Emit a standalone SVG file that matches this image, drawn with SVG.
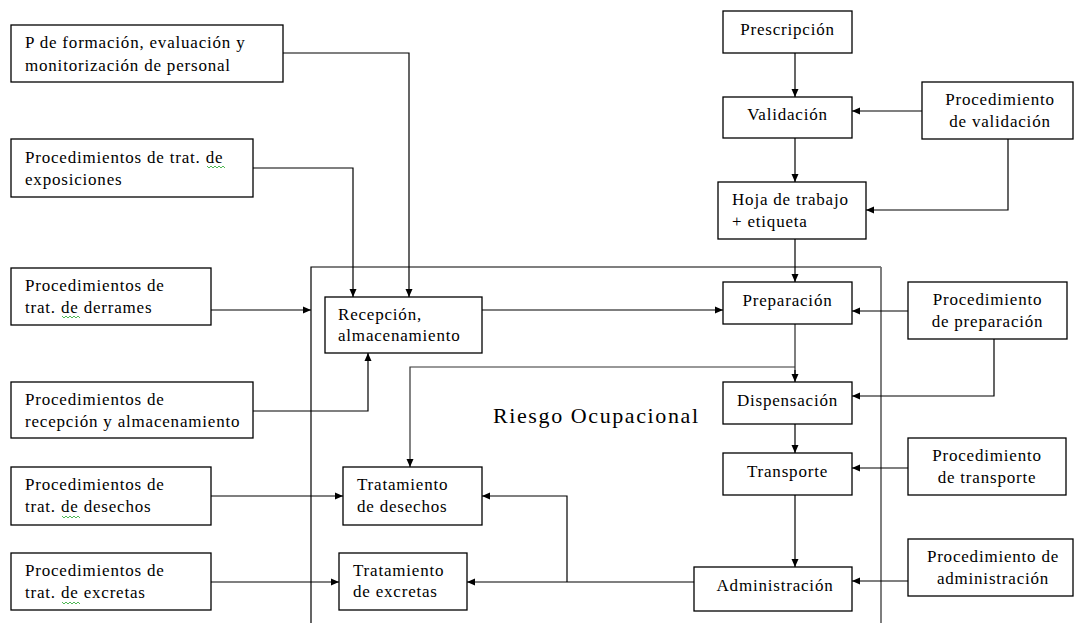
<svg xmlns="http://www.w3.org/2000/svg" width="1074" height="623" viewBox="0 0 1074 623">
<defs>
<marker id="ah" markerUnits="userSpaceOnUse" markerWidth="9" markerHeight="8" refX="8" refY="4" orient="auto">
<path d="M0,0.5 L8,4 L0,7.5 z" fill="#000"/>
</marker>
<style>
.box{fill:#fff;stroke:#000;stroke-width:1.3}
.t{font-family:"Liberation Serif","Times New Roman",serif;font-size:17px;fill:#000;letter-spacing:0.8px}
.c{text-anchor:middle}
.ln{fill:none;stroke:#000;stroke-width:1.2}
.gr{fill:none;stroke:#707070;stroke-width:1.8}
.arr{marker-end:url(#ah)}
.sq{fill:none;stroke:#3cb043;stroke-width:0.9}
</style>
</defs>
<rect width="1074" height="623" fill="#fff"/>

<g id="frame">
<path class="ln" d="M311,623 V267 H881"/>
<path class="gr" d="M881,267 V623"/>
<text class="t" x="493" y="423" style="font-size:22px;letter-spacing:0" textLength="205" lengthAdjust="spacing">Riesgo Ocupacional</text>
</g>

<g id="connectors">
<path class="ln arr" d="M283,53 H409 V297"/>
<path class="ln arr" d="M253,168 H353 V297"/>
<path class="ln arr" d="M211,310 H311"/>
<path class="ln arr" d="M253,411 H368 V353"/>
<path class="ln arr" d="M482,310 H723"/>
<path class="ln arr" d="M211,496 H343"/>
<path class="ln arr" d="M211,582 H339"/>
<path class="ln arr" d="M795,53 V97"/>
<path class="ln arr" d="M795,138 V182"/>
<path class="ln arr" d="M922,111 H852"/>
<path class="ln arr" d="M1008,139 V210 H866"/>
<path class="ln arr" d="M795,239 V282"/>
<path class="ln arr" d="M908,311 H852"/>
<path class="gr" d="M795,324 V374"/>
<path class="ln arr" d="M795,370 V382"/>
<path class="ln arr" d="M795,367 H410 V467" style="stroke:#333"/>
<path class="ln arr" d="M994,339 V396 H852"/>
<path class="ln arr" d="M795,424 V453"/>
<path class="ln arr" d="M908,468 H852"/>
<path class="ln arr" d="M795,495 V567"/>
<path class="ln arr" d="M908,581 H852"/>
<path class="ln arr" d="M694,582 H467"/>
<path class="ln arr" d="M567,582 V496 H482"/>
</g>

<g id="n-formacion">
<rect class="box" x="11" y="25" width="272" height="57"/>
<text class="t" x="25" y="48">P de formación, evaluación y</text>
<text class="t" x="25" y="71">monitorización de personal</text>
</g>
<g id="n-exposiciones">
<rect class="box" x="11" y="139" width="242" height="58"/>
<text class="t" x="25" y="163">Procedimientos de trat. de</text>
<text class="t" x="25" y="185">exposiciones</text>
<path class="sq" d="M207,166 l2,2 l2,-2 l2,2 l2,-2 l2,2 l2,-2 l2,2 l2,-2 l2,2"/>
</g>
<g id="n-derrames">
<rect class="box" x="11" y="268" width="200" height="57"/>
<text class="t" x="25" y="291">Procedimientos de</text>
<text class="t" x="25" y="313">trat. de derrames</text>
<path class="sq" d="M62,316 l2,2 l2,-2 l2,2 l2,-2 l2,2 l2,-2 l2,2 l2,-2 l2,2"/>
</g>
<g id="n-recepcion-proc">
<rect class="box" x="11" y="382" width="242" height="56"/>
<text class="t" x="25" y="405">Procedimientos de</text>
<text class="t" x="25" y="427">recepción y almacenamiento</text>
</g>
<g id="n-desechos-proc">
<rect class="box" x="11" y="467" width="200" height="58"/>
<text class="t" x="25" y="490">Procedimientos de</text>
<text class="t" x="25" y="512">trat. de desechos</text>
<path class="sq" d="M62,516 l2,2 l2,-2 l2,2 l2,-2 l2,2 l2,-2 l2,2 l2,-2 l2,2"/>
</g>
<g id="n-excretas-proc">
<rect class="box" x="11" y="553" width="200" height="57"/>
<text class="t" x="25" y="576">Procedimientos de</text>
<text class="t" x="25" y="598">trat. de excretas</text>
<path class="sq" d="M62,602 l2,2 l2,-2 l2,2 l2,-2 l2,2 l2,-2 l2,2 l2,-2 l2,2"/>
</g>

<g id="n-recepcion">
<rect class="box" x="325" y="297" width="157" height="56"/>
<text class="t" x="338" y="320">Recepción,</text>
<text class="t" x="338" y="341">almacenamiento</text>
</g>
<g id="n-trat-desechos">
<rect class="box" x="343" y="467" width="139" height="58"/>
<text class="t" x="357" y="490">Tratamiento</text>
<text class="t" x="357" y="512">de desechos</text>
</g>
<g id="n-trat-excretas">
<rect class="box" x="339" y="553" width="128" height="57"/>
<text class="t" x="353" y="576">Tratamiento</text>
<text class="t" x="353" y="597">de excretas</text>
</g>

<g id="n-prescripcion">
<rect class="box" x="723" y="11" width="129" height="42"/>
<text class="t c" x="787.5" y="35">Prescripción</text>
</g>
<g id="n-validacion">
<rect class="box" x="723" y="97" width="129" height="41"/>
<text class="t c" x="787.5" y="120">Validación</text>
</g>
<g id="n-proc-validacion">
<rect class="box" x="922" y="82" width="151" height="57"/>
<text class="t c" x="1000" y="105">Procedimiento</text>
<text class="t c" x="1000" y="127">de validación</text>
</g>
<g id="n-hoja">
<rect class="box" x="718" y="182" width="148" height="57"/>
<text class="t" x="732" y="205">Hoja de trabajo</text>
<text class="t" x="732" y="227">+ etiqueta</text>
</g>
<g id="n-preparacion">
<rect class="box" x="723" y="282" width="129" height="42"/>
<text class="t c" x="787.5" y="306">Preparación</text>
</g>
<g id="n-proc-preparacion">
<rect class="box" x="908" y="282" width="159" height="57"/>
<text class="t c" x="987.5" y="305">Procedimiento</text>
<text class="t c" x="987.5" y="327">de preparación</text>
</g>
<g id="n-dispensacion">
<rect class="box" x="723" y="382" width="129" height="42"/>
<text class="t c" x="787.5" y="406">Dispensación</text>
</g>
<g id="n-transporte">
<rect class="box" x="723" y="453" width="129" height="42"/>
<text class="t c" x="787.5" y="477">Transporte</text>
</g>
<g id="n-proc-transporte">
<rect class="box" x="908" y="438" width="158" height="57"/>
<text class="t c" x="987" y="461">Procedimiento</text>
<text class="t c" x="987" y="483">de transporte</text>
</g>
<g id="n-administracion">
<rect class="box" x="694" y="567" width="158" height="44"/>
<text class="t c" x="775" y="591">Administración</text>
</g>
<g id="n-proc-administracion">
<rect class="box" x="908" y="539" width="165" height="57"/>
<text class="t c" x="993" y="562">Procedimiento de</text>
<text class="t c" x="993" y="584">administración</text>
</g>
</svg>
